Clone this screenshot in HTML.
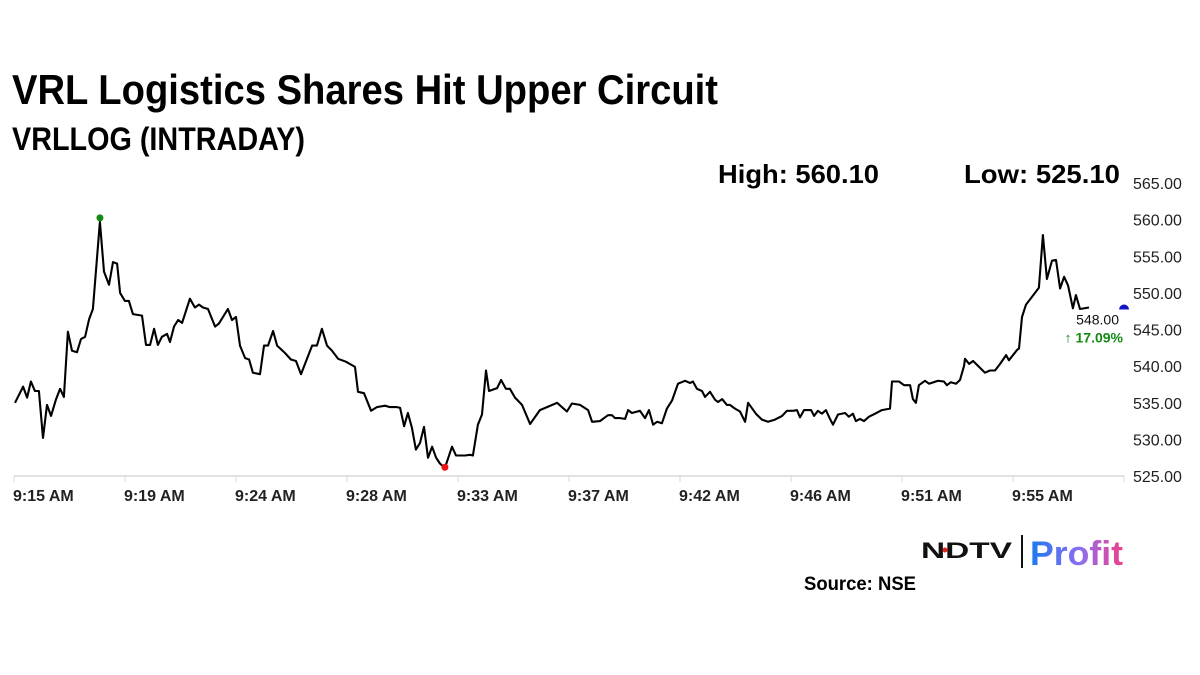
<!DOCTYPE html>
<html><head><meta charset="utf-8"><style>
html,body{margin:0;padding:0;background:#fff;width:1200px;height:675px;overflow:hidden}
svg{display:block}
text{font-family:"Liberation Sans",sans-serif}
</style></head><body>
<svg id="chart" width="1200" height="675" viewBox="0 0 1200 675" xmlns="http://www.w3.org/2000/svg">
<defs><linearGradient id="pg" x1="0" x2="1" y1="0" y2="0"><stop offset="0" stop-color="#1a7bef"/><stop offset="0.55" stop-color="#8f6df0"/><stop offset="1" stop-color="#f0408a"/></linearGradient></defs>
<text x="12" y="104" font-size="42" font-weight="bold" fill="#000" textLength="706" lengthAdjust="spacingAndGlyphs">VRL Logistics Shares Hit Upper Circuit</text>
<text x="12" y="150" font-size="32" font-weight="bold" fill="#000" textLength="293" lengthAdjust="spacingAndGlyphs">VRLLOG (INTRADAY)</text>
<text x="718" y="183" font-size="26" font-weight="bold" fill="#000" textLength="161" lengthAdjust="spacingAndGlyphs">High: 560.10</text>
<text x="964" y="183" font-size="26" font-weight="bold" fill="#000" textLength="156" lengthAdjust="spacingAndGlyphs">Low: 525.10</text>
<g id="axes"></g>
<g id="series"></g>
<g>
<text x="921" y="558" font-size="22" font-weight="bold" fill="#111" textLength="91" lengthAdjust="spacingAndGlyphs">NDTV</text>
<circle cx="945" cy="550" r="2.5" fill="#e0261c"/>
<rect x="1021" y="535" width="2" height="33" fill="#111"/>
<text x="1030" y="565" font-size="34" font-weight="bold" fill="url(#pg)" textLength="93" lengthAdjust="spacingAndGlyphs">Profit</text>
</g>
<text x="804" y="590" font-size="19" font-weight="bold" fill="#000" textLength="112" lengthAdjust="spacingAndGlyphs">Source: NSE</text>
</svg>
<script>
const times=[0.04,0.36,0.52,0.67,0.83,0.99,1.15,1.31,1.47,1.67,1.83,1.98,2.14,2.30,2.50,2.66,2.82,2.98,3.13,3.41,3.57,3.77,3.93,4.09,4.21,4.40,4.56,4.72,5.08,5.24,5.40,5.56,5.71,5.87,6.07,6.19,6.35,6.51,6.67,6.98,7.18,7.34,7.50,7.70,7.98,8.13,8.49,8.65,8.81,8.97,9.17,9.33,9.48,9.76,9.92,10.08,10.28,10.44,10.75,10.99,11.19,11.39,11.83,12.02,12.22,12.42,12.62,12.86,13.17,13.53,13.65,13.89,14.17,14.40,14.72,14.92,15.20,15.32,15.48,15.63,15.79,15.95,16.11,16.27,16.43,16.59,16.75,16.90,17.10,17.38,17.54,17.90,18.10,18.21,18.41,18.57,18.73,18.85,19.17,19.33,19.52,19.68,19.88,20.16,20.48,20.87,21.15,21.55,21.94,22.14,22.46,22.78,22.94,23.25,23.57,23.73,23.85,24.05,24.25,24.37,24.52,24.84,25.04,25.20,25.36,25.52,25.71,25.91,26.11,26.35,26.63,26.83,26.94,27.10,27.30,27.42,27.62,27.82,27.94,28.10,28.29,28.41,28.61,28.81,29.01,29.13,29.44,29.68,29.92,30.20,30.48,30.67,30.91,31.07,31.19,31.35,31.63,31.75,31.90,32.06,32.22,32.38,32.50,32.70,32.98,33.13,33.29,33.41,33.57,33.73,33.93,34.17,34.44,34.76,34.84,35.12,35.32,35.56,35.67,35.79,35.91,36.15,36.31,36.67,36.90,37.02,37.18,37.38,37.54,37.70,37.74,37.90,38.06,38.53,38.73,38.93,39.13,39.37,39.48,39.80,39.88,40.00,40.16,40.36,40.67,40.83,40.99,41.19,41.35,41.51,41.67,41.83,42.02,42.14,42.30,42.66];
const prices=[535.0,537.2,535.7,537.9,536.6,536.6,530.2,534.7,533.2,535.5,536.9,535.8,544.7,542.1,541.9,543.7,544.0,546.4,547.8,559.7,552.9,551.1,554.2,554.0,550.0,548.9,548.9,547.1,546.9,542.9,542.9,545.1,542.9,544.0,544.4,543.3,545.4,546.3,545.9,549.2,548.0,548.4,548.0,547.8,545.4,545.8,547.8,546.3,546.7,542.8,541.1,540.9,539.1,538.9,542.8,542.8,544.8,542.8,541.8,540.9,540.7,538.9,542.8,542.8,545.1,542.8,542.1,541.0,540.6,539.9,536.5,536.3,533.9,534.4,534.6,534.4,534.4,534.3,531.8,533.6,531.6,528.6,529.5,531.7,527.5,529.0,527.5,526.7,526.1,529.0,527.8,527.8,527.9,527.8,532.0,533.4,539.4,536.6,537.0,538.1,536.9,536.9,535.7,534.7,532.1,534.0,534.4,535.0,533.8,534.9,534.7,534.0,532.4,532.5,533.3,533.3,532.9,532.9,532.8,534.0,533.6,533.9,532.9,534.0,532.0,532.4,532.2,534.2,535.3,537.6,538.0,537.7,537.9,536.9,536.6,535.8,536.5,535.4,535.1,535.5,534.7,534.7,534.2,533.8,532.4,535.0,533.5,532.7,532.4,532.7,533.2,533.9,533.9,534.0,533.0,534.0,534.0,533.2,533.9,533.5,534.0,532.8,532.0,533.4,533.6,533.1,533.5,532.5,532.8,532.5,533.1,533.5,534.0,534.2,537.9,537.9,537.4,537.4,535.5,535.0,537.4,538.0,537.6,538.0,537.9,537.4,537.8,537.6,538.1,540.0,541.0,540.3,540.7,539.1,539.4,539.4,540.3,541.5,540.8,542.2,542.4,546.7,548.4,549.3,550.7,557.9,551.9,554.4,554.5,550.6,552.2,551.0,547.9,549.7,547.8,548.0];
const tickTimes=[0,4.405,8.81,13.215,17.62,22.025,26.43,30.835,35.24,39.645,44.05];
const tickLabels=["9:15 AM","9:19 AM","9:24 AM","9:28 AM","9:33 AM","9:37 AM","9:42 AM","9:46 AM","9:51 AM","9:55 AM",""];
const yTicks=[525,530,535,540,545,550,555,560,565];
const highPoint=[3.41,560.1];
const lowPoint=[17.10,525.1];
const lastPrice=548.00;
const changePct="17.09%";

const NS="http://www.w3.org/2000/svg";
const X=t=>14+t*25.2;
const Y=v=>183+(565-v)*(293/40);
function mk(tag,attrs,parent){const e=document.createElementNS(NS,tag);for(const k in attrs)e.setAttribute(k,attrs[k]);parent.appendChild(e);return e;}
const axes=document.getElementById('axes'),series=document.getElementById('series');
const base=mk('line',{x1:X(0),x2:X(44.05),y1:Y(525),y2:Y(525),stroke:'#d8d8d8','stroke-width':1.5},axes);


tickTimes.forEach((t,i)=>{
  const tk=mk('line',{x1:X(t),x2:X(t),y1:Y(525),y2:Y(525)+6,stroke:'#d8d8d8','stroke-width':1},axes);
  
  
  if(tickLabels[i]){
    const tx=mk('text',{x:X(t)-1,y:501,'font-size':16,'font-weight':'bold',fill:'#222'},axes);
    
    
    tx.textContent=tickLabels[i];
  }
});
yTicks.forEach(v=>{
  const tx=mk('text',{x:1133,y:Y(v)+6,'font-size':16,fill:'#222'},axes);
  
  
  tx.textContent=v.toFixed(2);
});
const d=times.map((t,i)=>(i?'L':'M')+X(t).toFixed(1)+','+Y(prices[i]).toFixed(1)).join(' ');
const line=mk('path',{d:d,fill:'none',stroke:'#000','stroke-width':2.1,'stroke-linejoin':'round'},series);


const hi=mk('circle',{cx:X(highPoint[0]),cy:Y(highPoint[1])-1,r:3.5,fill:'#138a13'},series);


const lo=mk('circle',{cx:X(lowPoint[0]),cy:Y(lowPoint[1])-8,r:3.5,fill:'#ee1111'},series);


const cp=mk('path',{d:`M${X(44.05)-5},${Y(lastPrice)+2} a5,5 0 0 1 10,0 z`,fill:'#1515c8'},series);


const lp=mk('text',{x:1119,y:Y(lastPrice)+17,'font-size':14,fill:'#111','text-anchor':'end'},series);


lp.textContent=lastPrice.toFixed(2);
const ch=mk('text',{x:1123,y:Y(lastPrice)+35,'font-size':14,'font-weight':'bold',fill:'#138a13','text-anchor':'end'},series);


ch.textContent='\u2191 '+changePct;
</script>
</body></html>
